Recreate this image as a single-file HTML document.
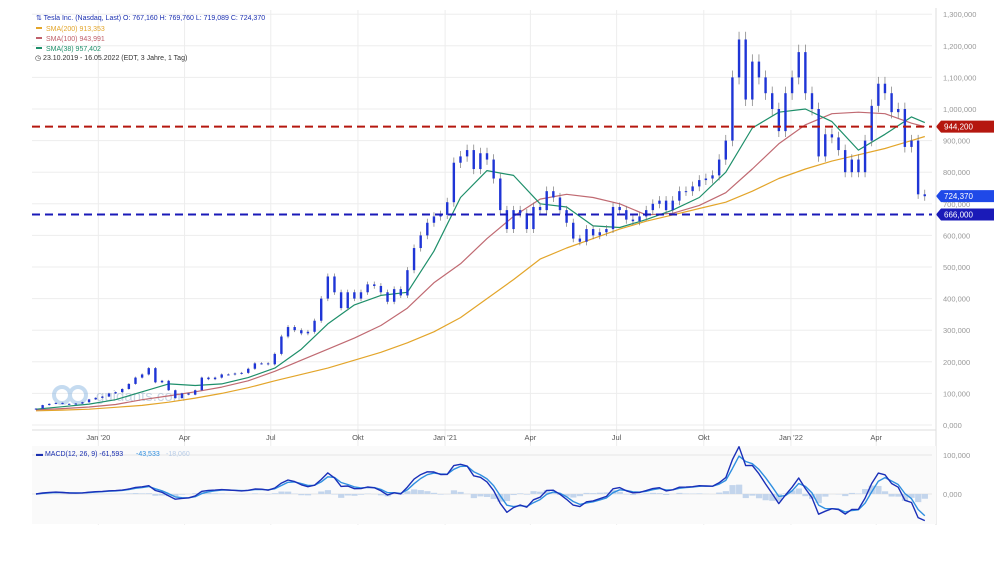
<!DOCTYPE html>
<html><head><meta charset="utf-8">
<style>
html,body{margin:0;padding:0;background:#fff;}
body{width:1000px;height:557px;overflow:hidden;font-family:"Liberation Sans",sans-serif;}
svg text{font-family:"Liberation Sans",sans-serif;}
</style></head>
<body>
<svg id="chart" width="1000" height="557" viewBox="0 0 1000 557" xmlns="http://www.w3.org/2000/svg">
  <g id="grid"></g>
  <g id="watermark" opacity="0.45">
    <circle cx="62" cy="395" r="8" fill="none" stroke="#7fb0e0" stroke-width="4"/>
    <circle cx="78" cy="395" r="8" fill="none" stroke="#7fb0e0" stroke-width="4"/>
    <text x="96" y="401" font-size="15" fill="#8aa6c4">guidants.com</text>
  </g>
  <g id="smas"></g>
  <g id="candles"></g>
  <g id="hlines"></g>
  <g id="axes"></g>
  <g id="macd"></g>
  <g id="legend" font-size="7">
    <text x="36" y="20" fill="#1a2fb0">⇅ Tesla Inc. (Nasdaq, Last)  O: 767,160  H: 769,760  L: 719,089  C: 724,370</text>
    <rect x="36" y="27" width="6" height="2" fill="#e3a52a"/>
    <text x="46" y="31" fill="#e3a52a">SMA(200)  913,353</text>
    <rect x="36" y="37" width="6" height="2" fill="#c0606a"/>
    <text x="46" y="41" fill="#c0606a">SMA(100)  943,991</text>
    <rect x="36" y="47" width="6" height="2" fill="#1e8f6a"/>
    <text x="46" y="51" fill="#1e8f6a">SMA(38)  957,402</text>
    <text x="35" y="60" fill="#333">◷ 23.10.2019 - 16.05.2022   (EDT, 3 Jahre, 1 Tag)</text>
  </g>
</svg>
<script>
// weekly closes (thousands USD), week 0 = 23.10.2019
const closes = [52,63,67,70,67,66,68,72,81,86,90,100,104,114,130,150,160,180,135,140,110,85,100,96,110,150,145,150,160,160,163,165,178,195,195,192,225,280,310,300,290,295,330,400,470,420,370,420,400,420,445,440,420,390,430,410,490,560,600,640,660,665,705,830,850,870,810,860,840,780,680,620,680,670,620,690,680,740,720,680,640,590,580,620,600,610,620,690,680,650,645,660,680,700,710,680,710,740,740,755,775,780,790,840,900,1100,1220,1030,1150,1100,1050,1000,930,1050,1100,1180,1050,1000,850,920,910,870,800,840,800,900,1010,1080,1050,990,1000,880,900,730,724];
const smaWeeks = [0,4,8,12,16,20,24,28,32,36,40,44,48,52,56,60,64,68,72,76,80,84,88,92,96,100,104,108,112,116,120,124,128,132,134];
const sma200 = [45,47,50,56,62,72,85,100,118,140,160,180,205,230,260,295,340,400,460,525,560,590,620,645,665,685,705,740,780,810,835,855,875,900,913];
const sma100 = [48,52,57,65,80,92,105,120,140,170,205,240,275,315,370,450,510,590,660,715,730,720,700,665,670,695,735,810,890,950,985,990,985,955,944];
const sma38  = [50,58,66,80,105,130,125,130,150,180,240,320,380,410,420,550,720,805,790,700,690,630,625,650,680,720,800,940,990,1000,960,870,920,975,957];
const priceTicks = [0,100,200,300,400,500,600,700,800,900,1000,1100,1200,1300];
const monthLabels = ["Jan '20","Apr","Jul","Okt","Jan '21","Apr","Jul","Okt","Jan '22","Apr"];
const monthDays = [70,161,252,344,436,526,617,709,801,891];
const hLevels = [944.2, 666.0];
const lastClose = 724.37;

const NS="http://www.w3.org/2000/svg";
const X0=32, PXD=0.9475, XR=932;
const xDay = d => X0 + d*PXD;
const xWeek = w => xDay(w*7)+4;
const yP = v => 425 - v*0.316;
const yM = v => 494 - v*0.39;
function mk(tag, attrs, parent){const e=document.createElementNS(NS,tag);for(const k in attrs)e.setAttribute(k,attrs[k]);parent.appendChild(e);return e;}
const commas = n => Math.round(n).toString().replace(/\B(?=(\d{3})+(?!\d))/g,',');

const grid=document.getElementById('grid');
const axes=document.getElementById('axes');
priceTicks.forEach(t=>{
  const g=mk('line',{x1:X0,x2:XR,y1:yP(t),y2:yP(t),stroke:'#ededed','stroke-width':1},grid);
  
  
  const tx=mk('text',{x:943,y:yP(t)+3,'font-size':7.5,fill:'#999'},axes);
  tx.textContent = t===0 ? '0,000' : commas(t*1000);
  
  
});
monthDays.forEach((d,i)=>{
  const x=xDay(d);
  const g=mk('line',{x1:x,x2:x,y1:10,y2:525,stroke:'#ededed','stroke-width':1},grid);
  
  
  const t=mk('text',{x:x,y:440,'font-size':7.5,fill:'#555','text-anchor':'middle'},axes);
  t.textContent=monthLabels[i];
  
  
});
const bx=mk('line',{x1:XR+4,x2:XR+4,y1:8,y2:525,stroke:'#ddd'},axes);


const bl=mk('line',{x1:X0,x2:XR+4,y1:430,y2:430,stroke:'#ddd'},axes);



const smas=document.getElementById('smas');
[[sma200,'#e3a52a','sma200-line'],[sma100,'#c06a72','sma100-line'],[sma38,'#1e8f6a','sma38-line']].forEach(([arr,c,n])=>{
  const d=arr.map((v,i)=>(i?'L':'M')+xWeek(smaWeeks[i]).toFixed(1)+','+yP(v).toFixed(1)).join(' ');
  const p=mk('path',{d:d,fill:'none',stroke:c,'stroke-width':1.2,'stroke-linejoin':'round'},smas);
  
  
});

const cg=document.getElementById('candles');
closes.forEach((c,i)=>{
  const o=i?closes[i-1]:c*0.95;
  const x=xWeek(i);
  const hi=Math.max(o,c)*1.02, lo=Math.min(o,c)*0.98;
  const w=mk('line',{x1:x,x2:x,y1:yP(hi),y2:yP(lo),stroke:'#777','stroke-width':0.7},cg);
  
  
  const b=mk('rect',{x:x-1.2,y:yP(Math.max(o,c)),width:2.4,height:Math.max(1,Math.abs(yP(o)-yP(c))),fill:'#1f35d6'},cg);
  
  
});

const hl=document.getElementById('hlines');
const hcol=['#b5170f','#1a1ab8'];
hLevels.forEach((v,i)=>{
  const y=yP(v);
  const l=mk('line',{x1:X0,x2:XR,y1:y,y2:y,stroke:hcol[i],'stroke-width':2,'stroke-dasharray':'8,5'},hl);
  
  
});
function tag(v,col,name){
  const y=yP(v);
  const p=mk('path',{d:`M936,${y} L941,${y-6} L994,${y-6} L994,${y+6} L941,${y+6} Z`,fill:col},hl);
  
  
  const t=mk('text',{x:944,y:y+3,'font-size':8,fill:'#fff'},hl);
  t.textContent=(Math.floor(v))+','+String(Math.round((v-Math.floor(v))*1000)).padStart(3,'0');
  
  
}
tag(hLevels[0],'#b5170f','resistance-price-tag');
tag(lastClose,'#1f49e8','last-price-tag');
tag(hLevels[1],'#1a1ab8','support-price-tag');

function ema(arr,span){const a=2/(span+1);const out=[];arr.forEach((v,i)=>out.push(i?a*v+(1-a)*out[i-1]:v));return out;}
const ef=ema(closes,3), es=ema(closes,6.5);
const macdLine=ef.map((v,i)=>v-es[i]);
const sig=ema(macdLine,2.5);
const mg=document.getElementById('macd');
const bg=mk('rect',{x:X0,y:446,width:XR-X0+4,height:78,fill:'#fafafa'},mg);


[100,0].forEach(t=>{
  const l=mk('line',{x1:X0,x2:XR,y1:yM(t),y2:yM(t),stroke:'#e6e6e6'},mg);
  
  
  const tx=mk('text',{x:943,y:yM(t)+3,'font-size':7.5,fill:'#999'},mg);
  tx.textContent=t?'100,000':'0,000';
  
  
});
macdLine.forEach((v,i)=>{
  const h=v-sig[i];
  const r=mk('rect',{x:xWeek(i)-3,y:Math.min(yM(0),yM(h)),width:6.2,height:Math.abs(yM(h)-yM(0)),fill:'#c3d5ec'},mg);
  
  
});
[[sig,'#2f8fe0','signal-line'],[macdLine,'#1a2fb8','macd-line']].forEach(([arr,c,n])=>{
  const d=arr.map((v,i)=>(i?'L':'M')+xWeek(i).toFixed(1)+','+yM(v).toFixed(1)).join(' ');
  const p=mk('path',{d:d,fill:'none',stroke:c,'stroke-width':1.4,'stroke-linejoin':'round'},mg);
  
  
});
const ml=mk('text',{x:36,y:456,'font-size':7,fill:'#1a2fb0'},mg);
ml.textContent='▬ MACD(12, 26, 9)  -61,593';


const ml2=mk('text',{x:136,y:456,'font-size':7,fill:'#2f8fe0'},mg);
ml2.textContent='-43,533';


const ml3=mk('text',{x:166,y:456,'font-size':7,fill:'#b8cde8'},mg);
ml3.textContent='-18,060';


</script>
</body></html>
